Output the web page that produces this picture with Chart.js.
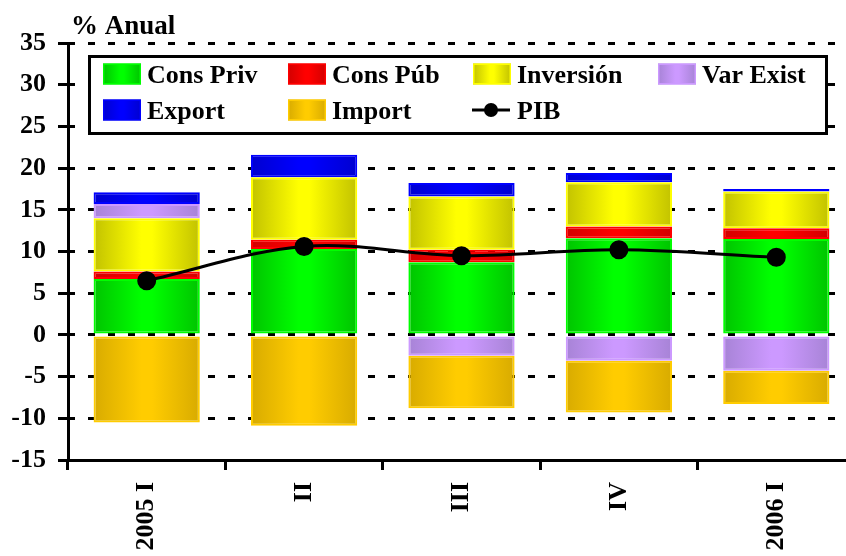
<!DOCTYPE html>
<html>
<head>
<meta charset="utf-8">
<script src="https://cdn.jsdelivr.net/npm/chart.js@4.4.0/dist/chart.umd.min.js"></script>
<style>
    html, body { margin: 0; padding: 0; background: #fff; overflow: hidden; }
    #wrap { width: 866px; height: 556px; }
</style>
</head>
<body>
<div id="wrap"><canvas id="pib-chart"></canvas></div>
<script>
const quarters = ["2005 I", "II", "III", "IV", "2006 I"];
const consPriv = [6.7, 10.3, 8.7, 11.6, 11.5];
const consPub = [0.9, 1.1, 1.5, 1.4, 1.3];
const inversion = [6.4, 7.5, 6.4, 5.3, 4.4];
const varExist = [1.7, 0, -2.5, -3.1, -4.3];
const exportVals = [1.4, 2.7, 1.6, 1.1, 0.3];
const importVals = [-10.5, -10.9, -6.3, -6.2, -4.0];
const pib = [6.5, 10.6, 9.5, 10.2, 9.3];
const yMin = -15;
const yMax = 35;
const yStep = 5;

const serif = '"Liberation Serif", "Times New Roman", serif';
const barFraction = 0.675;

// dark edge -> bright centre -> dark edge, like the original 3D-ish bars
function shade(chartCtx, x0, x1, edge, centre) {
    const g = chartCtx.createLinearGradient(x0, 0, x1, 0);
    g.addColorStop(0, edge);
    g.addColorStop(0.45, centre);
    g.addColorStop(0.55, centre);
    g.addColorStop(1, edge);
    return g;
}

function barFill(edge, centre) {
    return (ctx) => {
        const chart = ctx.chart;
        const xScale = chart.scales.x;
        if (ctx.type !== 'data' || !xScale) return centre;
        const mid = xScale.getPixelForValue(ctx.dataIndex);
        const half = xScale.width / quarters.length * barFraction / 2;
        if (!Number.isFinite(mid) || !Number.isFinite(half) || half <= 0) return centre;
        return shade(chart.ctx, mid - half, mid + half, edge, centre);
    };
}

function barSet(label, data, edge, centre) {
    return {
        type: 'bar',
        label: label,
        data: data,
        edge: edge,
        centre: centre,
        backgroundColor: barFill(edge, centre),
        borderColor: centre,
        borderWidth: 2,
        borderSkipped: false,
        barPercentage: barFraction,
        categoryPercentage: 1,
        order: 1
    };
}

const legendBox = {
    id: 'legendBox',
    afterDraw(chart) {
        const c = chart.ctx;
        c.save();
        // title above the axis
        c.fillStyle = '#000';
        c.font = 'bold 27px ' + serif;
        c.textBaseline = 'alphabetic';
        c.textAlign = 'left';
        c.fillText('% Anual', 71, 34);

        c.fillStyle = '#fff';
        c.fillRect(88, 55, 740, 80);
        c.lineWidth = 3;
        c.strokeStyle = '#000';
        c.strokeRect(89.5, 56.5, 737, 77);

        c.font = 'bold 26px ' + serif;
        chart.data.datasets.forEach((ds, i) => {
            const x = 103 + (i % 4) * 185;
            const cy = 74 + Math.floor(i / 4) * 36;
            if (ds.type === 'line') {
                c.strokeStyle = '#000';
                c.lineWidth = 3;
                c.beginPath();
                c.moveTo(x - 1, cy);
                c.lineTo(x + 37, cy);
                c.stroke();
                c.fillStyle = '#000';
                c.beginPath();
                c.arc(x + 18, cy, 7, 0, Math.PI * 2);
                c.fill();
            } else {
                c.fillStyle = shade(c, x, x + 38, ds.edge, ds.centre);
                c.fillRect(x, cy - 10.5, 38, 21);
                c.strokeStyle = ds.centre;
                c.lineWidth = 1.5;
                c.strokeRect(x + 0.75, cy - 9.75, 36.5, 19.5);
            }
            c.fillStyle = '#000';
            c.fillText(ds.label, x + 44, cy + 9);
        });
        c.restore();
    }
};

new Chart(document.getElementById('pib-chart'), {
    data: {
        labels: quarters,
        datasets: [
            barSet('Cons Priv', consPriv, '#00c400', '#00ff00'),
            barSet('Cons Púb', consPub, '#d20000', '#ff0000'),
            barSet('Inversión', inversion, '#c2c200', '#ffff00'),
            barSet('Var Exist', varExist, '#a783d6', '#cc99ff'),
            barSet('Export', exportVals, '#0000d0', '#0000ff'),
            barSet('Import', importVals, '#d8ab00', '#ffcc00'),
            {
                type: 'line',
                label: 'PIB',
                data: pib,
                borderColor: '#000',
                borderWidth: 3,
                tension: 0.35,
                pointRadius: 8,
                pointBackgroundColor: '#000',
                pointBorderColor: '#000',
                order: 0
            }
        ]
    },
    options: {
        responsive: true,
        maintainAspectRatio: false,
        animation: false,
        events: [],
        layout: {
            padding: { top: 43, left: 0, right: 0, bottom: 0 }
        },
        scales: {
            x: {
                stacked: true,
                offset: true,
                grid: {
                    offset: true,
                    drawOnChartArea: false,
                    tickLength: 10,
                    tickWidth: 3,
                    tickColor: '#000'
                },
                border: { display: true, color: '#000', width: 3 },
                ticks: {
                    color: '#000',
                    font: { family: serif, size: 26, weight: 'bold' },
                    minRotation: 90,
                    maxRotation: 90,
                    padding: 12,
                    autoSkip: false
                },
                afterFit: (scale) => {
                    scale.height = 96;
                    scale.paddingLeft = 0;
                    scale.paddingRight = 0;
                }
            },
            y: {
                stacked: true,
                min: yMin,
                max: yMax,
                ticks: {
                    stepSize: yStep,
                    color: '#000',
                    font: { family: serif, size: 26, weight: 'bold' },
                    padding: 12
                },
                grid: {
                    color: '#000',
                    lineWidth: 3,
                    tickLength: 10,
                    tickWidth: 3,
                    tickColor: '#000',
                    tickBorderDash: []
                },
                border: { display: true, color: '#000', width: 3, dash: [7, 13], dashOffset: 2 },
                afterFit: (scale) => {
                    scale.width = 68;
                }
            }
        },
        plugins: {
            legend: { display: false },
            tooltip: { enabled: false }
        }
    },
    plugins: [legendBox]
});
</script>
</body>
</html>
